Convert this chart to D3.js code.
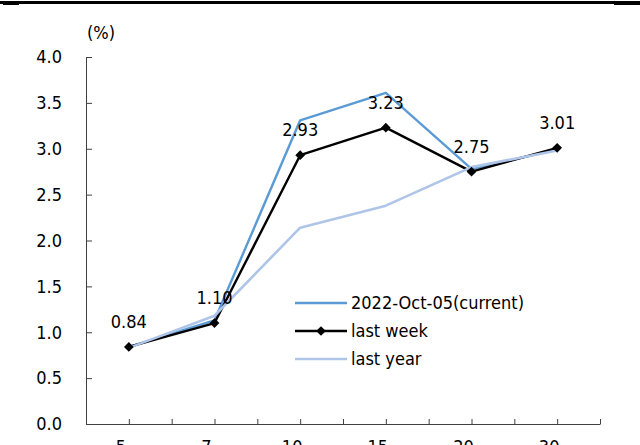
<!DOCTYPE html>
<html>
<head>
<meta charset="utf-8">
<script src="https://cdn.jsdelivr.net/npm/d3@7"></script>
<style>
  html, body { margin: 0; padding: 0; background: #fff; }
  svg { display: block; }
  text { font-family: "DejaVu Sans Condensed", "DejaVu Sans", sans-serif; font-stretch: condensed; fill: #000; }
</style>
</head>
<body>
<svg id="chart" width="640" height="445"></svg>
<script>
// Maturities (years) on the x axis
const maturities = ["5", "7", "10", "15", "20", "30"];
// Yields (%)
const currentYields  = [0.84, 1.13, 3.31, 3.61, 2.78, 2.99];
const lastWeekYields = [0.84, 1.10, 2.93, 3.23, 2.75, 3.01];
const lastYearYields = [0.83, 1.18, 2.14, 2.38, 2.80, 2.98];
const seriesNames = ["2022-Oct-05(current)", "last week", "last year"];
const yTicks = [0, 0.5, 1, 1.5, 2, 2.5, 3, 3.5, 4];

const svg = d3.select("#chart");

// heavy rule across the top
svg.append("rect").attr("x", 0).attr("y", 1).attr("width", 640).attr("height", 3).attr("fill", "#000");
svg.append("rect").attr("x", 3).attr("y", 1).attr("width", 16).attr("height", 4).attr("fill", "#000");
svg.append("rect").attr("x", 614).attr("y", 1).attr("width", 26).attr("height", 4).attr("fill", "#000");

const plot = { left: 86, right: 600, top: 57, bottom: 424 };

const x = d3.scaleBand().domain(maturities).range([plot.left, plot.right]).padding(0);
const cx = d => x(d) + x.bandwidth() / 2;
const y = d3.scaleLinear().domain([0, 4]).range([plot.bottom, plot.top]);

// y axis
const yAxis = svg.append("g")
  .attr("transform", `translate(${plot.left},0)`)
  .call(d3.axisLeft(y).tickValues(yTicks).tickFormat(d3.format(".1f"))
    .tickSize(-6).tickSizeOuter(0).tickPadding(24));
yAxis.select(".domain").attr("stroke", "#404040");
yAxis.selectAll(".tick line").attr("stroke", "#404040");
yAxis.selectAll(".tick text").style("font-size", "18px").attr("fill", "#000");

// x axis: tick marks at every half category
const xHalf = d3.scaleLinear().domain([0, maturities.length * 2]).range([plot.left, plot.right]);
const xTickAxis = svg.append("g")
  .attr("transform", `translate(0,${plot.bottom})`)
  .call(d3.axisBottom(xHalf).tickValues(d3.range(0, maturities.length * 2 + 1))
    .tickSize(-5).tickSizeOuter(0).tickFormat(""));
xTickAxis.select(".domain").attr("stroke", "#404040");
xTickAxis.selectAll(".tick line").attr("stroke", "#404040");

// x category labels
const xLabelAxis = svg.append("g")
  .attr("transform", `translate(0,${plot.bottom})`)
  .call(d3.axisBottom(x).tickSize(0).tickPadding(16));
xLabelAxis.select(".domain").remove();
xLabelAxis.selectAll(".tick text").style("font-size", "18px").attr("fill", "#000").attr("dx", -8);

// unit label
svg.append("text").attr("x", 101).attr("y", 39).attr("text-anchor", "middle")
  .style("font-size", "18px").text("(%)");

const line = d3.line().x((d, i) => cx(maturities[i])).y(d => y(d));

svg.append("path").datum(currentYields).attr("d", line)
  .attr("fill", "none").attr("stroke", "#5B9BD5").attr("stroke-width", 2.4).attr("stroke-linejoin", "round");
svg.append("path").datum(lastWeekYields).attr("d", line)
  .attr("fill", "none").attr("stroke", "#000").attr("stroke-width", 2.4).attr("stroke-linejoin", "round");
svg.append("path").datum(lastYearYields).attr("d", line)
  .attr("fill", "none").attr("stroke", "#AFC5E8").attr("stroke-width", 2.6).attr("stroke-linejoin", "round");

const diamond = d3.symbol().type(d3.symbolDiamond2 || d3.symbolDiamond).size(60);
svg.append("g").selectAll("path").data(lastWeekYields).join("path")
  .attr("d", diamond)
  .attr("transform", (d, i) => `translate(${cx(maturities[i])},${y(d)})`)
  .attr("fill", "#000");

// value labels for last week
svg.append("g").selectAll("text").data(lastWeekYields).join("text")
  .attr("x", (d, i) => cx(maturities[i]))
  .attr("y", d => y(d) - 19)
  .attr("text-anchor", "middle")
  .style("font-size", "18px")
  .text(d => d3.format(".2f")(d));

// legend
const legendRows = [
  { name: seriesNames[0], color: "#5B9BD5", marker: false },
  { name: seriesNames[1], color: "#000", marker: true },
  { name: seriesNames[2], color: "#AFC5E8", marker: false }
];
const legend = svg.append("g").selectAll("g").data(legendRows).join("g")
  .attr("transform", (d, i) => `translate(295,${303 + i * 28})`);
legend.append("line").attr("x1", 0).attr("x2", 52).attr("y1", 0).attr("y2", 0)
  .attr("stroke", d => d.color).attr("stroke-width", 2.6);
legend.filter(d => d.marker).append("path").attr("d", diamond)
  .attr("transform", "translate(26,0)").attr("fill", "#000");
legend.append("text").attr("x", 56).attr("y", 0).attr("dy", "0.35em")
  .style("font-size", "18px").text(d => d.name);
</script>
</body>
</html>
